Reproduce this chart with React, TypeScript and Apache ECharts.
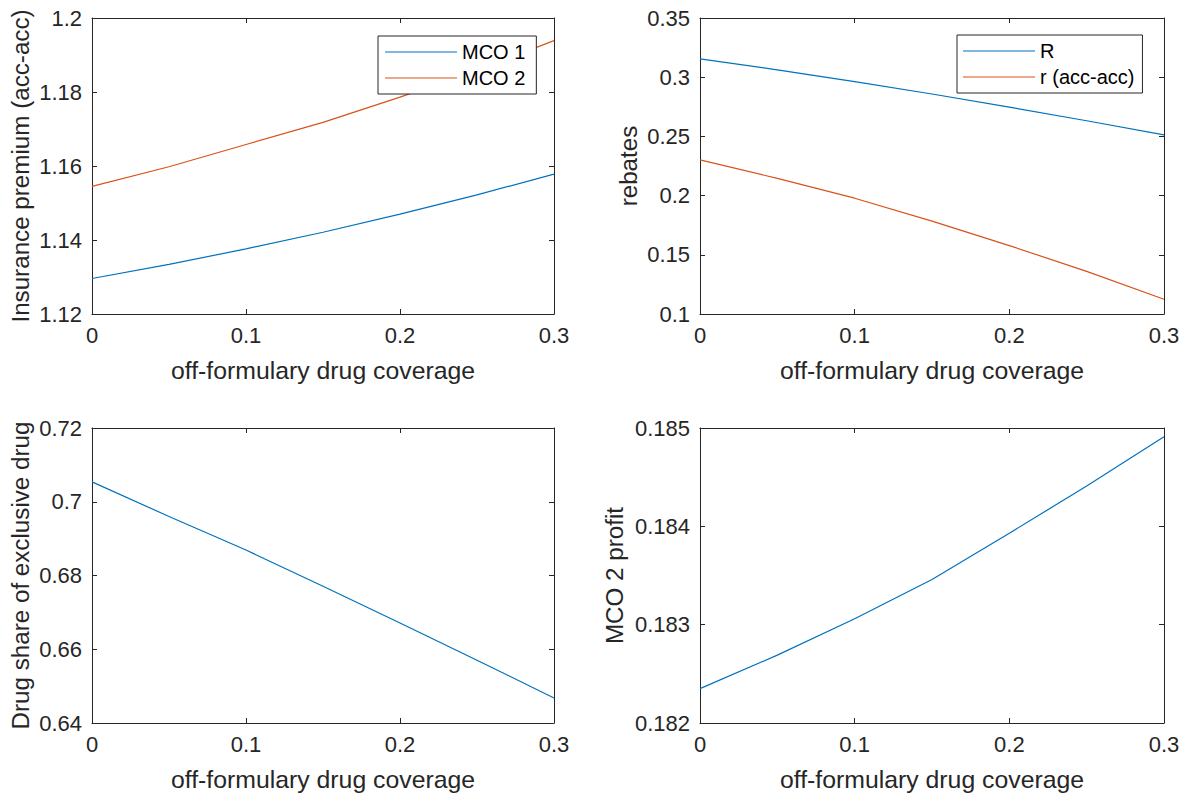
import React, { useEffect, useRef } from "react";
import * as echarts from "echarts";

const coverage = [0, 0.05, 0.1, 0.15, 0.2, 0.25, 0.3];
const premiumMCO1 = [1.1296, 1.1334, 1.1376, 1.1421, 1.147, 1.1522, 1.1578];
const premiumMCO2 = [1.1545, 1.1598, 1.1658, 1.1718, 1.1786, 1.1858, 1.1939];
const rebateR = [0.3155, 0.3062, 0.2963, 0.2858, 0.2747, 0.2632, 0.2513];
const rebateSmallR = [0.2302, 0.2145, 0.1978, 0.1785, 0.1578, 0.136, 0.1125];
const drugShare = [0.7054, 0.696, 0.6869, 0.6771, 0.6671, 0.657, 0.6468];
const mco2Profit = [0.18235, 0.18269, 0.18306, 0.18346, 0.18393, 0.18441, 0.18491];

const xTicks = { min: 0, max: 0.3, interval: 0.1 };
const yPremium = { min: 1.12, max: 1.2, interval: 0.02 };
const yRebates = { min: 0.1, max: 0.35, interval: 0.05 };
const yShare = { min: 0.64, max: 0.72, interval: 0.02 };
const yProfit = { min: 0.182, max: 0.185, interval: 0.001 };

const xLabel = "off-formulary drug coverage";

const BLUE = "#0072BD";
const ORANGE = "#D95319";
const AXIS = "#262626";
const FONT = "'Liberation Sans', Arial, Helvetica, sans-serif";

const pairs = (ys: number[]) => coverage.map((x, i) => [x, ys[i]]);

export default function App() {
  const ref = useRef<HTMLDivElement>(null);
  useEffect(() => {
    if (!ref.current) return;
    const chart = echarts.init(ref.current, undefined, { renderer: "svg" });

    const grids = [
      { left: 92, top: 18, width: 462, height: 296 },
      { left: 700, top: 18, width: 464, height: 296 },
      { left: 92, top: 428, width: 462, height: 295 },
      { left: 700, top: 428, width: 464, height: 295 },
    ];
    const yCfg = [
      { r: yPremium, name: "Insurance premium (acc-acc)", gap: 60 },
      { r: yRebates, name: "rebates", gap: 60 },
      { r: yShare, name: "Drug share of exclusive drug", gap: 60 },
      { r: yProfit, name: "MCO 2 profit", gap: 74 },
    ];

    const xAxes: any[] = [];
    const yAxes: any[] = [];
    grids.forEach((_, gi) => {
      const common = {
        type: "value",
        gridIndex: gi,
        splitLine: { show: false },
        axisLine: { show: true, onZero: false, lineStyle: { color: AXIS, width: 1 } },
        axisTick: { show: true, inside: true, length: 5, lineStyle: { color: AXIS } },
      };
      xAxes.push({
        ...common,
        ...xTicks,
        position: "bottom",
        axisLabel: { show: true, fontSize: 22, color: AXIS, fontFamily: FONT, margin: 10 },
        name: xLabel,
        nameLocation: "middle",
        nameGap: 44,
        nameTextStyle: { fontSize: 24.8, color: AXIS, fontFamily: FONT },
      });
      xAxes.push({
        ...common,
        ...xTicks,
        position: "top",
        axisLabel: { show: false },
      });
      yAxes.push({
        ...common,
        ...yCfg[gi].r,
        position: "left",
        axisLabel: { show: true, fontSize: 22, color: AXIS, fontFamily: FONT, margin: 10 },
        name: yCfg[gi].name,
        nameLocation: "middle",
        nameGap: yCfg[gi].gap,
        nameTextStyle: { fontSize: 24.2, color: AXIS, fontFamily: FONT },
      });
      yAxes.push({
        ...common,
        ...yCfg[gi].r,
        position: "right",
        axisLabel: { show: false },
      });
    });

    const line = (name: string, data: number[], color: string, gi: number) => ({
      type: "line",
      name,
      data: pairs(data),
      xAxisIndex: gi * 2,
      yAxisIndex: gi * 2,
      symbol: "none",
      lineStyle: { color, width: 1.2 },
      itemStyle: { color },
      z: 1,
    });

    const legendCommon = {
      orient: "vertical",
      icon: "rect",
      itemWidth: 72,
      itemHeight: 1.2,
      itemGap: 6,
      borderColor: AXIS,
      borderWidth: 1,
      borderRadius: 0,
      backgroundColor: "#ffffff",
      textStyle: { fontSize: 20, color: "#000", fontFamily: FONT, lineHeight: 20 },
      z: 10,
    };

    chart.setOption({
      animation: false,
      backgroundColor: "#ffffff",
      grid: grids.map((g) => ({ ...g, containLabel: false })),
      xAxis: xAxes,
      yAxis: yAxes,
      legend: [
        {
          ...legendCommon,
          left: 378,
          top: 36,
          padding: [6, 11, 6, 7],
          data: ["MCO 1", "MCO 2"],
        },
        {
          ...legendCommon,
          left: 957,
          top: 35,
          padding: [6, 8, 6, 6],
          data: ["R", "r (acc-acc)"],
        },
      ],
      series: [
        line("MCO 1", premiumMCO1, BLUE, 0),
        line("MCO 2", premiumMCO2, ORANGE, 0),
        line("R", rebateR, BLUE, 1),
        line("r (acc-acc)", rebateSmallR, ORANGE, 1),
        line("Drug share", drugShare, BLUE, 2),
        line("MCO 2 profit", mco2Profit, BLUE, 3),
      ],
    });
    return () => chart.dispose();
  }, []);

  return (
    <div
      ref={ref}
      style={{ position: "absolute", left: 0, top: 0, width: 1185, height: 797, background: "#fff" }}
    />
  );
}
